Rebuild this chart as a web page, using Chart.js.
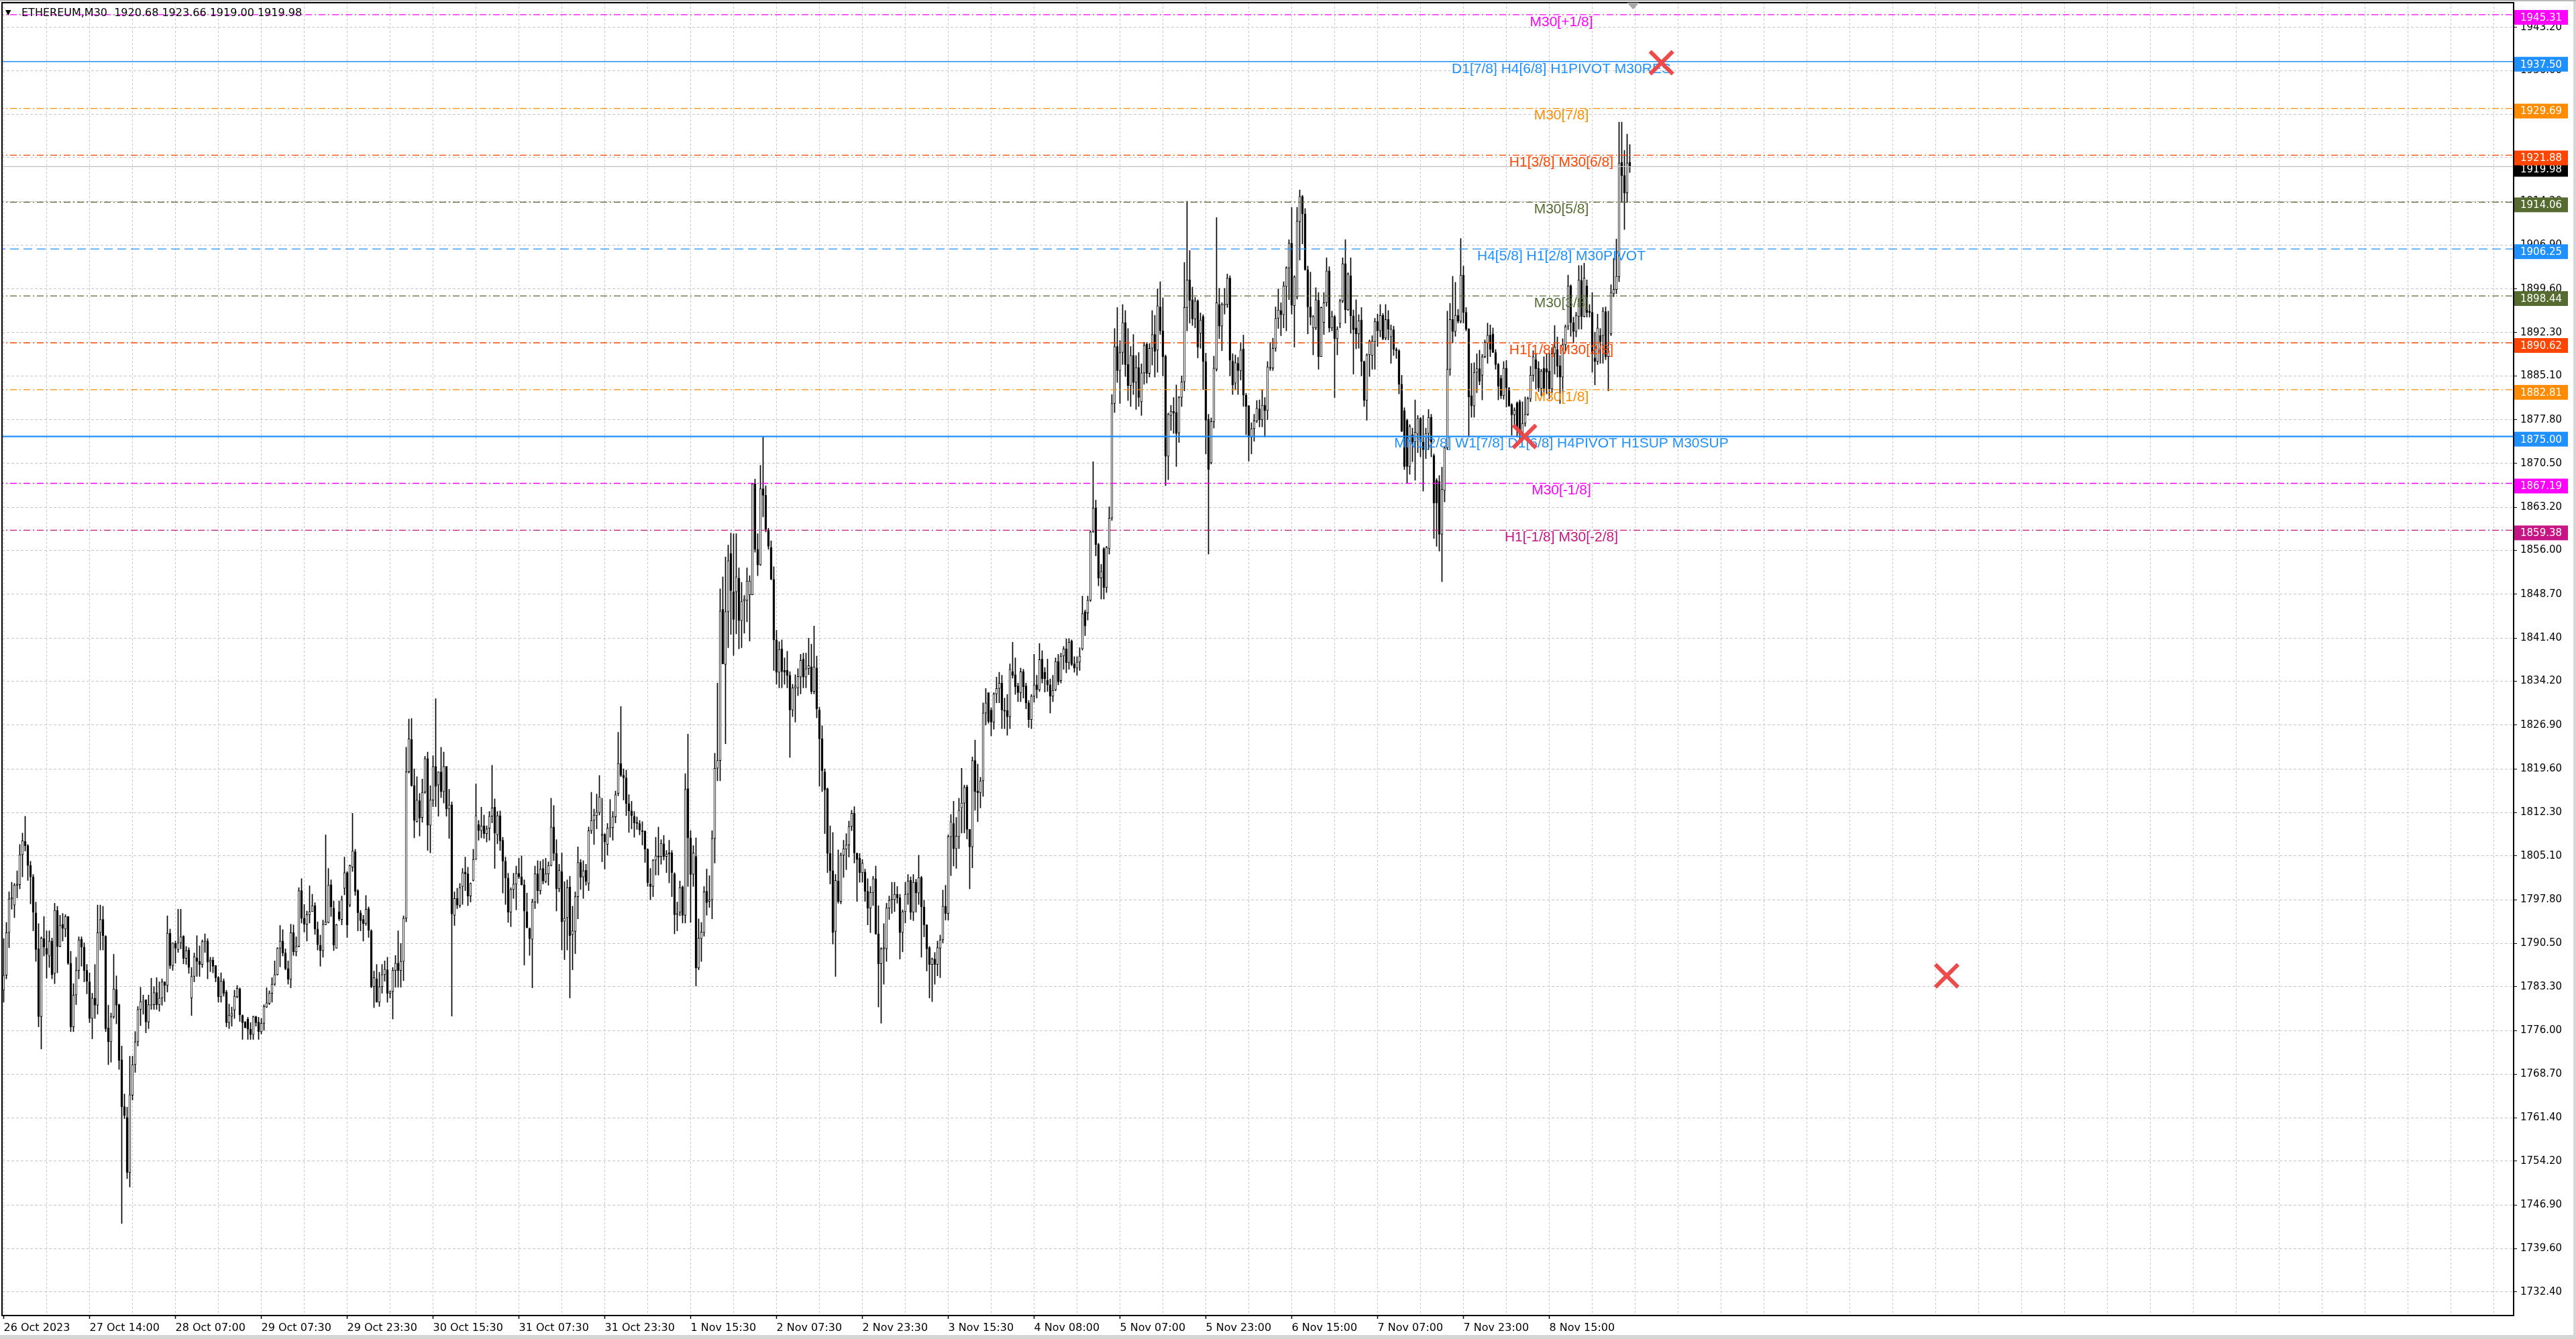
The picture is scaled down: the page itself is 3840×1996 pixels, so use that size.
<!DOCTYPE html>
<html>
<head>
<meta charset="utf-8">
<title>ETHEREUM,M30</title>
<script src="https://cdn.jsdelivr.net/npm/chart.js@4.4.1/dist/chart.umd.min.js"></script>
<style>
    html, body { margin: 0; padding: 0; background: #fff; }
    #wrap { width: 3840px; height: 1996px; }
</style>
</head>
<body>
<div id="wrap"><canvas id="priceChart" width="3840" height="1996"></canvas></div>
<script>
const symbolTitle = 'ETHEREUM,M30';

// M30 bars, oldest first
const opens = [
    1782.7,1785.2,1792.3,1797.9,1796.9,1800.2,1800.3,1805.3,1807.5,1806.8,
    1803.5,1801.6,1795.6,1789.6,1778.3,1791.3,1789.7,1788.4,1790.9,1785.5,
    1796.0,1790.0,1793.7,1792.9,1795.0,1787.2,1776.6,1781.9,1786.0,1791.2,
    1789.9,1786.0,1784.1,1778.0,1781.4,1780.2,1792.3,1794.5,1791.7,1776.4,
    1774.1,1778.3,1782.8,1780.3,1771.1,1763.3,1761.5,1752.3,1765.2,1770.3,
    1774.1,1779.5,1780.8,1781.1,1777.4,1780.2,1780.3,1782.3,1780.3,1781.4,
    1784.1,1783.5,1792.2,1786.8,1790.5,1789.5,1790.6,1791.7,1788.0,1789.4,
    1781.4,1785.0,1788.1,1787.5,1787.0,1790.8,1790.9,1787.4,1787.7,1786.8,
    1784.8,1781.6,1784.2,1782.4,1777.3,1778.4,1779.4,1781.6,1782.9,1778.5,
    1777.4,1777.9,1776.2,1775.3,1778.3,1777.4,1775.8,1777.2,1779.9,1780.5,
    1782.2,1783.7,1785.3,1789.7,1790.9,1788.9,1786.3,1784.5,1792.3,1789.1,
    1790.0,1799.3,1794.7,1793.7,1795.3,1795.8,1796.8,1792.9,1790.2,1789.3,
    1793.6,1794.0,1800.3,1796.4,1789.7,1795.8,1794.5,1799.7,1802.3,1796.9,
    1803.2,1805.8,1799.3,1795.6,1794.5,1793.8,1796.3,1792.6,1783.3,1784.6,
    1780.7,1783.3,1785.3,1786.1,1782.2,1782.5,1786.0,1787.2,1786.0,1787.5,
    1794.7,1819.1,1824.5,1816.8,1810.8,1814.3,1811.5,1815.7,1821.3,1810.2,
    1814.4,1820.0,1816.9,1819.1,1815.8,1820.0,1812.9,1813.6,1795.2,1798.0,
    1796.8,1800.0,1802.4,1802.1,1798.4,1801.0,1804.5,1810.3,1809.3,1810.1,
    1808.8,1809.7,1811.7,1813.2,1808.6,1811.8,1807.7,1804.2,1801.4,1795.7,
    1799.5,1800.4,1802.2,1801.6,1800.3,1795.8,1793.0,1791.2,1797.4,1802.1,
    1799.3,1803.0,1800.8,1802.1,1803.5,1809.9,1805.5,1799.6,1802.5,1794.2,
    1794.8,1799.9,1792.0,1792.5,1798.3,1804.0,1801.6,1802.7,1800.5,1809.3,
    1811.0,1811.8,1812.3,1808.5,1808.7,1807.0,1809.7,1809.8,1811.6,1815.5,
    1820.5,1818.5,1818.1,1813.8,1812.6,1811.7,1810.7,1810.5,1809.3,1809.2,
    1806.2,1800.4,1800.0,1804.4,1805.1,1805.0,1807.1,1805.0,1805.6,1805.6,
    1802.1,1795.3,1795.7,1799.9,1795.2,1816.3,1808.1,1802.0,1805.0,1786.4,
    1791.3,1792.3,1799.2,1797.5,1797.8,1808.0,1819.7,1821.0,1846.2,1837.0,
    1845.8,1855.5,1849.1,1849.1,1851.4,1844.3,1847.6,1847.7,1848.6,1848.6,
    1867.1,1856.2,1853.6,1866.3,1865.2,1859.4,1856.5,1851.2,1841.1,1835.7,
    1839.6,1836.0,1836.0,1835.2,1829.4,1833.1,1833.1,1834.9,1837.9,1834.9,
    1836.3,1836.6,1832.5,1836.4,1829.4,1824.6,1819.1,1816.3,1805.5,1802.6,
    1792.5,1800.9,1797.5,1805.2,1806.2,1806.9,1810.0,1812.2,1805.5,1804.7,
    1802.3,1802.4,1799.2,1796.4,1799.0,1801.3,1792.1,1787.1,1789.6,1789.6,
    1796.4,1797.7,1797.8,1798.7,1798.1,1792.3,1795.8,1798.7,1801.0,1795.7,
    1800.7,1798.9,1801.5,1796.6,1793.6,1789.8,1787.0,1787.9,1787.0,1789.7,
    1791.1,1796.7,1795.5,1808.3,1810.5,1806.3,1808.3,1813.1,1813.9,1816.6,
    1809.5,1806.6,1821.0,1815.9,1815.6,1817.6,1828.9,1832.3,1829.4,1827.4,
    1832.1,1833.0,1833.9,1829.4,1829.3,1828.3,1835.8,1835.3,1833.4,1832.3,
    1835.8,1833.4,1830.6,1827.8,1831.7,1833.6,1832.8,1837.9,1835.7,1834.4,
    1833.6,1831.7,1832.8,1837.5,1834.3,1838.4,1839.6,1837.3,1840.9,1837.1,
    1836.4,1837.4,1839.6,1845.8,1845.6,1847.7,1859.1,1863.1,1857.0,1851.4,
    1856.3,1849.8,1856.3,1861.4,1880.5,1890.0,1886.0,1889.0,1894.0,1887.0,
    1883.5,1888.5,1884.0,1886.5,1880.8,1885.6,1890.4,1885.5,1889.7,1892.0,
    1889.4,1896.6,1892.6,1888.4,1871.7,1878.5,1879.2,1879.0,1875.6,1881.5,
    1884.1,1896.5,1901.1,1897.8,1894.6,1897.6,1892.2,1895.0,1887.5,1877.9,
    1870.6,1877.5,1886.2,1897.0,1893.4,1896.9,1897.0,1901.4,1887.6,1883.9,
    1887.2,1886.0,1889.6,1881.9,1880.1,1874.9,1876.3,1877.6,1879.6,1877.8,
    1880.2,1879.3,1886.5,1886.4,1889.7,1894.7,1896.0,1895.3,1900.0,1903.1,
    1907.2,1896.8,1898.3,1910.8,1915.0,1912.1,1902.8,1896.6,1893.1,1893.1,
    1897.7,1888.3,1894.0,1897.3,1902.6,1893.1,1895.0,1891.3,1893.8,1897.6,
    1903.8,1896.1,1901.8,1895.1,1893.1,1892.1,1894.4,1887.5,1881.0,1888.6,
    1888.5,1890.8,1894.2,1892.6,1895.2,1891.4,1894.5,1891.6,1892.8,1889.5,
    1889.3,1883.7,1879.3,1877.7,1870.0,1875.3,1874.1,1875.4,1878.0,1874.1,
    1872.8,1875.5,1878.2,1871.8,1867.7,1867.5,1858.7,1866.0,1873.1,1886.2,
    1894.5,1892.5,1895.2,1894.2,1901.9,1895.7,1892.9,1881.8,1880.1,1885.7,
    1886.3,1885.2,1888.3,1890.6,1891.9,1892.1,1889.0,1887.0,1884.7,1881.8,
    1886.4,1883.0,1880.3,1878.6,1880.6,1880.8,1875.7,1877.2,1878.7,1881.3,
    1885.2,1887.8,1886.4,1883.0,1886.4,1886.3,1885.9,1882.9,1888.8,1889.5,
    1886.8,1884.9,1890.3,1893.4,1900.1,1894.0,1892.5,1895.0,1901.0,1895.0,
    1900.1,1895.9,1895.7,1888.1,1887.5,1891.8,1891.8,1895.8,1888.3,1892.1,
    1898.8,1899.5,1901.6,1920.7,1918.5,1915.6,1920.68
];
const highs = [
    1791.3,1794.0,1799.1,1800.7,1800.5,1802.6,1807.0,1808.9,1811.7,1807.0,
    1804.2,1802.0,1797.4,1793.8,1791.6,1795.0,1792.6,1792.6,1791.4,1797.2,
    1796.7,1795.2,1795.5,1795.3,1795.0,1789.2,1783.8,1788.2,1791.6,1791.6,
    1790.6,1787.0,1785.6,1782.2,1787.0,1796.9,1796.9,1796.7,1791.8,1780.2,
    1778.9,1788.7,1785.1,1780.4,1773.4,1765.4,1763.2,1771.7,1771.7,1775.8,
    1780.0,1783.2,1781.9,1781.1,1781.9,1784.7,1783.3,1784.8,1784.1,1784.6,
    1784.1,1795.1,1792.9,1790.6,1790.9,1796.2,1796.2,1791.8,1790.0,1789.8,
    1786.5,1788.9,1791.8,1790.1,1791.1,1792.1,1791.3,1788.2,1788.2,1786.8,
    1785.0,1785.6,1784.6,1782.7,1780.4,1779.9,1782.7,1783.5,1783.1,1778.6,
    1777.5,1778.2,1777.3,1778.4,1778.4,1778.2,1778.0,1780.3,1783.1,1782.6,
    1784.8,1787.6,1789.8,1793.5,1792.8,1789.6,1787.6,1793.7,1793.6,1791.6,
    1799.8,1801.3,1797.0,1795.9,1800.1,1798.7,1797.3,1794.1,1791.9,1794.4,
    1808.6,1803.0,1801.1,1797.6,1793.7,1797.6,1798.4,1804.9,1802.5,1803.6,
    1812.2,1806.2,1799.5,1796.0,1795.2,1798.5,1796.6,1792.8,1785.9,1787.0,
    1785.7,1787.0,1787.6,1788.2,1782.6,1786.5,1788.5,1792.6,1790.5,1795.1,
    1823.2,1827.9,1828.0,1819.6,1818.3,1815.5,1817.9,1821.7,1822.4,1816.8,
    1821.8,1831.3,1819.1,1823.2,1822.4,1820.0,1816.2,1814.1,1799.1,1799.7,
    1800.5,1803.0,1804.9,1803.2,1800.6,1806.2,1817.1,1811.0,1813.2,1811.9,
    1810.1,1812.5,1820.2,1814.6,1812.5,1812.6,1808.2,1804.9,1802.2,1799.8,
    1802.2,1803.4,1804.7,1805.1,1801.1,1798.9,1793.1,1797.9,1803.4,1804.3,
    1804.2,1804.5,1804.7,1804.1,1814.7,1813.5,1807.8,1803.7,1805.6,1800.8,
    1801.1,1801.7,1796.7,1799.1,1806.6,1804.5,1804.3,1803.7,1809.9,1815.7,
    1812.9,1815.4,1818.5,1814.7,1808.8,1810.5,1814.5,1812.5,1815.9,1825.7,
    1830.0,1819.6,1819.4,1815.3,1814.2,1812.5,1811.6,1811.0,1810.8,1809.3,
    1806.3,1803.0,1804.5,1808.2,1809.9,1807.8,1808.5,1806.0,1807.7,1806.0,
    1802.3,1797.4,1800.9,1800.1,1818.8,1825.4,1809.3,1806.8,1808.1,1794.6,
    1794.0,1800.0,1802.9,1801.8,1809.3,1822.2,1833.9,1849.6,1851.6,1854.9,
    1856.9,1858.9,1858.8,1858.8,1853.1,1850.7,1848.5,1853.1,1851.8,1867.2,
    1867.9,1858.8,1870.2,1875.0,1866.8,1859.7,1857.6,1853.3,1842.7,1840.8,
    1841.1,1838.1,1839.2,1835.8,1833.7,1835.3,1836.3,1838.7,1838.9,1838.9,
    1841.4,1840.4,1843.4,1838.4,1829.9,1826.8,1819.6,1816.4,1810.1,1809.0,
    1802.0,1806.1,1805.6,1807.7,1808.8,1810.9,1812.7,1813.3,1805.6,1805.5,
    1804.5,1802.9,1801.3,1800.0,1801.7,1803.4,1796.8,1789.8,1793.8,1797.2,
    1798.4,1800.7,1800.7,1800.0,1798.7,1796.1,1800.7,1802.0,1801.6,1802.0,
    1801.2,1805.2,1801.7,1797.7,1793.6,1790.0,1788.1,1789.0,1790.9,1791.9,
    1799.4,1800.2,1808.6,1812.0,1814.2,1811.5,1814.7,1819.7,1816.9,1816.9,
    1809.5,1821.6,1824.4,1820.4,1818.2,1830.6,1833.0,1832.3,1829.8,1832.3,
    1834.9,1835.7,1835.2,1831.4,1832.0,1837.1,1840.7,1838.1,1833.9,1836.4,
    1836.2,1833.9,1831.0,1832.0,1838.7,1835.2,1840.5,1839.3,1836.5,1837.9,
    1834.6,1835.2,1838.1,1838.7,1838.9,1840.0,1841.3,1841.3,1841.1,1838.3,
    1838.3,1839.8,1848.4,1846.1,1848.4,1859.3,1870.8,1864.4,1857.2,1853.7,
    1856.5,1856.7,1863.3,1882.0,1893.0,1896.5,1891.0,1897.0,1896.0,1893.0,
    1890.0,1892.0,1888.5,1889.0,1887.1,1890.7,1890.7,1890.5,1896.0,1895.2,
    1899.6,1900.8,1898.1,1888.6,1878.9,1880.2,1881.5,1883.6,1881.7,1885.1,
    1904.0,1914.2,1906.0,1899.9,1898.2,1897.8,1895.6,1895.3,1888.9,1878.7,
    1878.1,1888.4,1911.5,1899.7,1897.3,1899.7,1902.1,1901.8,1888.8,1888.6,
    1888.2,1890.7,1891.9,1882.2,1880.2,1877.3,1878.7,1881.0,1881.1,1882.8,
    1881.5,1887.5,1890.7,1891.4,1896.6,1899.6,1897.3,1900.8,1903.3,1907.8,
    1913.2,1901.8,1913.2,1916.1,1915.2,1913.0,1903.4,1902.4,1895.2,1899.8,
    1899.0,1896.6,1899.0,1904.8,1903.3,1895.9,1895.2,1893.3,1897.9,1904.8,
    1907.8,1902.3,1904.8,1896.1,1897.8,1895.3,1896.5,1887.6,1888.8,1891.1,
    1891.8,1894.7,1895.4,1897.0,1895.5,1897.0,1896.0,1893.6,1893.4,1889.8,
    1889.5,1885.2,1879.8,1877.9,1877.0,1876.4,1881.1,1878.5,1878.2,1878.5,
    1876.4,1879.5,1878.7,1872.1,1868.0,1868.5,1869.9,1873.4,1895.9,1897.2,
    1901.7,1900.7,1896.2,1908.0,1903.4,1896.5,1893.0,1887.2,1887.3,1888.8,
    1889.4,1888.7,1891.1,1893.9,1893.6,1893.1,1889.5,1887.2,1885.2,1887.5,
    1887.7,1883.2,1880.5,1879.8,1880.8,1881.1,1880.8,1881.6,1881.6,1886.7,
    1889.3,1888.8,1887.5,1886.2,1888.3,1888.8,1888.9,1889.8,1893.5,1891.6,
    1888.5,1891.3,1893.6,1901.9,1900.3,1894.9,1895.7,1903.5,1903.5,1903.9,
    1901.1,1897.0,1899.0,1892.4,1895.4,1893.0,1896.5,1896.6,1895.9,1900.3,
    1904.7,1907.9,1927.4,1927.4,1922.7,1925.4,1923.66
];
const lows = [
    1780.7,1784.6,1789.8,1796.2,1794.8,1798.1,1799.6,1801.6,1805.9,1801.0,
    1797.1,1792.6,1787.5,1776.6,1772.9,1788.4,1784.7,1786.5,1784.6,1783.8,
    1785.6,1789.9,1790.9,1791.6,1787.0,1775.8,1775.8,1780.3,1784.6,1786.7,
    1784.1,1782.1,1777.3,1774.6,1778.0,1778.7,1789.4,1789.4,1775.8,1770.3,
    1770.7,1778.0,1777.1,1769.5,1743.8,1761.3,1751.3,1749.9,1764.4,1769.0,
    1773.4,1776.8,1778.7,1775.6,1776.3,1779.5,1779.5,1779.5,1779.2,1780.2,
    1780.8,1782.4,1786.3,1786.0,1787.2,1789.0,1789.6,1787.1,1787.0,1785.5,
    1778.5,1784.1,1785.0,1785.0,1786.5,1789.0,1784.6,1785.8,1785.6,1784.1,
    1780.7,1780.7,1781.7,1776.6,1776.3,1776.7,1778.0,1781.4,1777.5,1774.5,
    1776.4,1774.5,1774.5,1774.5,1776.7,1774.5,1775.4,1776.0,1779.8,1780.3,
    1780.7,1783.5,1785.2,1786.6,1788.4,1786.1,1783.7,1783.1,1788.5,1788.4,
    1789.9,1793.9,1792.4,1790.9,1793.9,1795.8,1792.0,1789.4,1786.7,1788.2,
    1793.6,1793.9,1795.0,1789.3,1789.7,1794.3,1793.6,1798.6,1791.5,1796.6,
    1802.5,1798.5,1792.6,1792.6,1790.9,1793.5,1791.5,1783.1,1779.8,1780.7,
    1780.0,1782.2,1784.2,1780.7,1781.4,1777.9,1783.2,1783.2,1783.2,1784.3,
    1794.1,1818.9,1816.7,1808.1,1810.7,1808.4,1810.7,1815.5,1806.0,1805.6,
    1813.3,1813.3,1811.7,1814.8,1813.9,1811.7,1808.0,1778.4,1793.5,1796.3,
    1796.5,1797.0,1799.3,1796.8,1797.4,1800.9,1804.5,1807.7,1808.1,1808.0,
    1807.4,1807.7,1810.6,1803.0,1807.1,1806.0,1798.9,1797.0,1794.0,1793.3,
    1798.0,1796.1,1801.3,1800.2,1786.9,1793.1,1788.5,1783.1,1796.3,1797.2,
    1798.7,1800.4,1800.6,1800.2,1803.4,1804.3,1795.9,1799.1,1789.4,1787.8,
    1789.4,1781.4,1786.1,1788.8,1794.6,1799.5,1798.0,1800.2,1799.3,1808.8,
    1807.0,1809.6,1811.9,1804.1,1802.9,1805.2,1808.2,1807.7,1810.6,1815.1,
    1818.3,1814.4,1811.8,1809.0,1809.6,1808.2,1809.5,1808.6,1806.9,1804.0,
    1800.0,1797.8,1798.3,1801.9,1801.9,1803.7,1804.4,1802.3,1800.6,1798.3,
    1792.1,1792.6,1795.1,1793.9,1793.9,1800.0,1794.0,1800.0,1783.4,1786.1,
    1787.5,1791.7,1795.2,1796.5,1794.6,1803.9,1817.6,1817.6,1837.1,1823.8,
    1839.8,1842.0,1838.5,1842.1,1839.6,1839.8,1842.2,1844.1,1840.9,1848.6,
    1855.7,1851.8,1853.5,1861.6,1859.1,1856.2,1851.1,1836.0,1833.7,1833.1,
    1833.1,1833.7,1833.1,1821.5,1828.3,1827.4,1831.8,1832.1,1833.1,1833.1,
    1835.3,1832.1,1832.1,1828.1,1816.7,1815.8,1808.8,1802.3,1800.4,1790.4,
    1785.0,1797.2,1797.1,1801.5,1802.8,1804.9,1809.3,1803.9,1797.5,1800.7,
    1800.7,1797.5,1793.6,1792.3,1796.8,1792.0,1779.9,1777.2,1783.7,1787.5,
    1794.5,1795.5,1795.8,1797.2,1787.9,1789.1,1793.9,1797.0,1794.5,1794.3,
    1795.7,1797.0,1788.2,1791.6,1785.9,1781.4,1780.8,1783.7,1785.1,1784.8,
    1790.6,1794.4,1794.4,1801.8,1803.4,1803.0,1806.3,1808.9,1808.9,1807.9,
    1799.6,1803.1,1812.7,1810.8,1813.1,1815.0,1826.9,1827.2,1825.1,1826.2,
    1830.6,1830.6,1826.3,1826.3,1825.2,1826.3,1834.7,1832.0,1830.8,1830.8,
    1831.4,1829.6,1826.5,1826.3,1830.7,1831.4,1832.5,1833.9,1832.4,1832.5,
    1828.9,1830.8,1832.6,1833.6,1833.9,1836.2,1835.6,1836.2,1836.8,1835.7,
    1835.2,1836.0,1839.4,1841.8,1844.4,1847.5,1859.0,1855.1,1850.1,1847.9,
    1847.9,1849.0,1855.4,1861.0,1879.0,1884.0,1880.5,1887.0,1885.0,1881.0,
    1880.0,1882.0,1879.5,1880.0,1878.5,1883.7,1883.9,1884.9,1886.9,1884.9,
    1885.7,1892.0,1885.1,1866.8,1867.8,1876.0,1875.5,1870.0,1874.0,1880.0,
    1882.6,1892.6,1893.9,1893.5,1893.1,1888.1,1889.7,1882.8,1872.1,1855.4,
    1870.4,1876.4,1885.9,1891.3,1889.3,1895.4,1896.5,1885.1,1882.0,1882.8,
    1882.0,1884.4,1880.0,1875.3,1870.9,1872.1,1874.2,1877.3,1876.6,1876.6,
    1874.9,1877.8,1886.0,1886.0,1889.2,1893.0,1891.8,1893.1,1892.6,1897.8,
    1895.4,1889.9,1897.9,1904.4,1907.1,1902.7,1892.1,1893.6,1888.6,1892.8,
    1886.2,1888.3,1892.0,1896.7,1892.4,1892.6,1881.5,1888.6,1893.1,1897.3,
    1893.9,1896.0,1892.2,1885.4,1889.6,1889.7,1885.1,1880.0,1877.7,1885.0,
    1886.2,1886.2,1890.0,1891.6,1891.1,1891.1,1891.1,1887.2,1888.5,1888.0,
    1882.1,1875.8,1869.5,1867.2,1868.7,1870.8,1867.7,1872.3,1871.6,1865.9,
    1871.3,1872.8,1871.6,1858.0,1856.7,1855.9,1850.8,1864.1,1872.8,1885.2,
    1890.6,1891.7,1893.9,1893.9,1893.9,1892.6,1874.9,1878.2,1878.2,1882.3,
    1883.6,1881.1,1888.1,1887.2,1888.3,1889.0,1886.2,1881.1,1881.3,1881.2,
    1879.9,1880.0,1875.2,1876.7,1874.9,1874.4,1875.2,1876.7,1878.5,1880.8,
    1884.2,1882.9,1882.5,1881.8,1881.8,1882.1,1881.3,1882.3,1885.4,1884.9,
    1880.5,1882.1,1889.3,1892.8,1891.7,1890.6,1891.6,1892.9,1892.9,1894.9,
    1894.9,1894.9,1885.7,1883.6,1887.0,1887.2,1887.2,1887.8,1882.6,1891.8,
    1898.3,1898.8,1900.8,1914.0,1909.5,1914.0,1919.00
];
const closes = [
    1785.2,1792.3,1797.9,1798.1,1800.2,1800.4,1805.3,1807.6,1806.8,1803.5,
    1801.6,1795.7,1789.5,1778.3,1791.4,1789.9,1788.7,1790.9,1785.3,1796.0,
    1790.0,1793.5,1793.0,1795.0,1787.2,1776.6,1781.9,1786.0,1791.1,1789.9,
    1786.0,1784.2,1778.0,1781.4,1780.2,1792.3,1794.5,1791.8,1776.3,1774.1,
    1778.3,1782.9,1780.2,1771.0,1763.3,1761.8,1752.3,1765.3,1770.3,1774.1,
    1779.5,1780.8,1780.9,1777.4,1780.3,1780.3,1782.3,1780.3,1781.4,1784.1,
    1783.5,1792.2,1786.8,1790.6,1789.7,1790.6,1791.6,1788.0,1789.3,1786.5,
    1785.0,1788.3,1787.5,1787.0,1790.8,1790.9,1787.4,1787.7,1786.7,1784.8,
    1781.6,1784.2,1782.2,1777.3,1778.5,1778.8,1781.7,1783.0,1778.6,1777.3,
    1776.5,1776.2,1775.3,1778.3,1777.3,1775.8,1777.2,1780.0,1780.6,1782.2,
    1783.7,1785.3,1789.7,1790.9,1788.9,1786.3,1784.5,1792.3,1789.1,1790.0,
    1799.3,1794.7,1793.7,1795.3,1795.8,1796.8,1792.9,1790.3,1789.3,1793.7,
    1794.1,1800.2,1796.6,1790.2,1793.6,1794.6,1797.8,1802.3,1793.6,1803.5,
    1805.9,1799.2,1795.6,1794.3,1793.8,1796.2,1792.7,1783.3,1784.8,1780.7,
    1783.3,1785.3,1786.2,1782.2,1782.5,1786.0,1787.2,1786.0,1787.5,1794.7,
    1819.1,1824.6,1816.8,1811.0,1814.4,1811.4,1815.7,1821.3,1810.2,1814.4,
    1820.0,1816.7,1819.1,1815.8,1820.0,1812.9,1813.6,1795.4,1798.0,1796.9,
    1799.8,1802.3,1802.1,1798.4,1800.5,1804.5,1811.8,1809.3,1810.1,1808.8,
    1809.6,1811.7,1813.1,1808.9,1811.8,1807.6,1804.2,1801.4,1795.7,1799.5,
    1800.4,1802.2,1801.6,1800.3,1795.9,1793.1,1791.3,1797.4,1802.1,1799.3,
    1802.9,1800.9,1802.1,1803.5,1809.9,1805.5,1799.6,1802.7,1794.1,1794.7,
    1799.8,1791.8,1792.6,1798.3,1804.0,1801.5,1802.6,1800.8,1809.3,1811.0,
    1811.9,1812.4,1814.9,1808.7,1807.4,1809.7,1809.8,1811.6,1815.3,1820.5,
    1818.5,1818.1,1813.8,1812.6,1811.8,1810.6,1810.5,1809.4,1809.1,1806.2,
    1800.6,1800.0,1804.4,1805.1,1804.9,1807.2,1805.0,1805.4,1805.4,1802.3,
    1795.3,1795.5,1799.8,1795.2,1816.2,1808.1,1802.0,1805.6,1786.4,1791.4,
    1792.4,1799.1,1797.3,1797.8,1808.0,1819.7,1821.0,1845.9,1837.1,1845.8,
    1854.3,1849.3,1844.5,1851.6,1844.3,1847.5,1847.9,1850.9,1850.9,1867.1,
    1856.2,1853.6,1866.3,1865.2,1859.5,1856.7,1851.2,1841.1,1835.7,1839.5,
    1835.8,1835.7,1835.2,1829.4,1833.1,1833.4,1835.0,1837.7,1834.9,1836.3,
    1836.8,1832.5,1836.6,1829.6,1824.6,1819.3,1816.1,1805.5,1802.6,1792.3,
    1801.0,1797.5,1805.2,1806.3,1806.9,1810.0,1812.2,1805.6,1804.5,1802.3,
    1803.9,1799.2,1796.4,1799.0,1801.3,1792.1,1787.1,1789.6,1789.8,1796.4,
    1797.7,1797.9,1798.7,1798.1,1792.3,1795.8,1798.7,1800.9,1795.7,1800.7,
    1798.9,1801.5,1796.6,1793.6,1789.6,1787.0,1787.9,1787.0,1789.8,1791.1,
    1796.7,1795.5,1808.3,1810.8,1806.3,1808.4,1812.7,1813.9,1816.5,1809.5,
    1806.6,1821.0,1815.8,1815.6,1817.6,1828.9,1830.6,1827.5,1827.4,1832.1,
    1833.0,1833.9,1829.4,1829.2,1828.3,1836.2,1835.2,1833.3,1832.3,1835.8,
    1833.3,1830.6,1827.8,1831.7,1833.6,1832.8,1837.8,1834.6,1834.6,1833.6,
    1831.7,1832.7,1837.5,1834.1,1838.4,1839.6,1837.3,1840.7,1837.0,1836.4,
    1837.4,1838.4,1845.5,1843.4,1847.7,1859.1,1863.1,1857.0,1851.4,1852.5,
    1849.8,1856.5,1861.4,1880.5,1890.0,1886.0,1889.0,1894.0,1887.0,1883.5,
    1888.5,1884.0,1886.5,1881.5,1885.6,1890.2,1885.5,1889.7,1892.0,1889.2,
    1896.8,1892.6,1888.3,1871.7,1878.7,1879.2,1878.9,1875.5,1881.5,1884.1,
    1896.5,1901.1,1897.7,1894.6,1897.6,1889.9,1894.4,1887.5,1877.7,1869.5,
    1877.5,1886.4,1897.3,1893.4,1897.0,1897.1,1901.4,1887.7,1883.6,1887.3,
    1886.0,1889.4,1881.9,1880.0,1874.9,1876.3,1877.6,1879.7,1877.8,1880.2,
    1879.3,1886.6,1886.4,1889.7,1894.7,1896.1,1895.3,1900.1,1903.1,1907.2,
    1896.9,1901.6,1910.9,1915.0,1912.1,1902.8,1896.6,1894.9,1895.0,1897.8,
    1888.3,1896.5,1897.3,1902.6,1893.1,1895.0,1891.3,1892.9,1897.6,1903.8,
    1896.1,1902.1,1895.1,1892.8,1892.1,1894.3,1887.5,1881.0,1888.6,1890.9,
    1890.9,1894.2,1892.6,1895.2,1891.3,1894.5,1892.9,1892.9,1889.5,1889.3,
    1883.7,1875.9,1870.0,1870.0,1876.7,1874.1,1875.7,1878.0,1874.1,1872.8,
    1875.5,1878.2,1874.1,1863.9,1863.9,1858.7,1866.2,1873.1,1886.2,1894.5,
    1892.5,1895.2,1894.2,1901.9,1895.7,1892.9,1881.6,1880.1,1885.7,1886.3,
    1884.2,1888.3,1890.7,1891.9,1889.5,1889.0,1887.0,1883.4,1881.8,1886.4,
    1883.1,1880.1,1878.6,1879.4,1876.4,1875.4,1877.2,1878.7,1881.3,1885.2,
    1888.3,1886.3,1883.1,1885.9,1883.0,1885.7,1882.9,1888.8,1889.9,1886.7,
    1884.9,1890.3,1893.3,1900.1,1894.0,1892.5,1895.2,1901.1,1895.0,1901.4,
    1895.7,1895.7,1888.8,1887.5,1893.1,1890.8,1895.9,1888.3,1889.3,1899.0,
    1899.5,1901.7,1920.6,1918.5,1915.6,1920.6,1919.98
];

// time axis labels, one every 32 bars
const timeLabels = [
    '26 Oct 2023', '27 Oct 14:00', '28 Oct 07:00', '29 Oct 07:30', '29 Oct 23:30',
    '30 Oct 15:30', '31 Oct 07:30', '31 Oct 23:30', '1 Nov 15:30', '2 Nov 07:30',
    '2 Nov 23:30', '3 Nov 15:30', '4 Nov 08:00', '5 Nov 07:00', '5 Nov 23:00',
    '6 Nov 15:00', '7 Nov 07:00', '7 Nov 23:00', '8 Nov 15:00'
];
const priceTicks = [
    1943.2, 1936.0, 1928.7, 1921.5, 1914.2, 1906.9, 1899.6, 1892.3, 1885.1, 1877.8,
    1870.5, 1863.2, 1856.0, 1848.7, 1841.4, 1834.2, 1826.9, 1819.6, 1812.3, 1805.1,
    1797.8, 1790.5, 1783.3, 1776.0, 1768.7, 1761.4, 1754.2, 1746.9, 1739.6, 1732.4
];

// Murrey math levels
const levelPrices = [1945.31, 1937.50, 1929.69, 1921.88, 1914.06, 1906.25, 1898.44, 1890.62, 1882.81, 1875.00, 1867.19, 1859.38];
const levelNames = [
    'M30[+1/8]',
    'D1[7/8] H4[6/8] H1PIVOT M30RES',
    'M30[7/8]',
    'H1[3/8] M30[6/8]',
    'M30[5/8]',
    'H4[5/8] H1[2/8] M30PIVOT',
    'M30[3/8]',
    'H1[1/8] M30[2/8]',
    'M30[1/8]',
    'MN1[2/8] W1[7/8] D1[6/8] H4PIVOT H1SUP M30SUP',
    'M30[-1/8]',
    'H1[-1/8] M30[-2/8]'
];

// red cross objects (bar index, price)
const markBars = [617.8, 566.8, 724.1];
const markPrices = [1937.3, 1875.0, 1785.1];

// ---- styles ----
const DASH_DOT = [10, 4, 2, 4];
const levelColors = ['#FF00FF', '#1E90FF', '#FF8C00', '#FF4500', '#556B2F', '#1E90FF', '#556B2F', '#FF4500', '#FF8C00', '#1E90FF', '#FF00FF', '#C71585'];
const levelDashes = [DASH_DOT, [], DASH_DOT, DASH_DOT, DASH_DOT, [13, 7], DASH_DOT, DASH_DOT, DASH_DOT, [], DASH_DOT, DASH_DOT];
const levelWidths = [1.3, 1.5, 1.3, 1.3, 1.3, 1.3, 1.3, 1.3, 1.3, 2.2, 1.3, 1.3];

const GRID_STEP = 16;     // bars between vertical grid lines
const LABEL_STEP = 32;    // bars between time labels
const X_MIN = -0.625;
const X_MAX = 935.375;
const LABEL_BAR = 580.5;  // where level captions are centred
const AXIS_FONT = 'DejaVu Sans';

const barCount = closes.length;
const wickData = [];
const bodyData = [];
for (let i = 0; i < barCount; i++) {
    wickData.push({ x: i, y: [lows[i], highs[i]] });
    bodyData.push({ x: i, y: [Math.min(opens[i], closes[i]), Math.max(opens[i], closes[i])] });
}

const gridBars = [];
for (let v = 0; v <= X_MAX; v += GRID_STEP) gridBars.push(v);

const datasets = [];
datasets.push({
    type: 'scatter',
    label: 'marks',
    data: markBars.map((b, k) => ({ x: b, y: markPrices[k] })),
    pointStyle: 'crossRot',
    pointRadius: 24,
    pointHoverRadius: 24,
    borderColor: 'rgba(236, 66, 66, 0.95)',
    backgroundColor: 'rgba(236, 66, 66, 0.95)',
    borderWidth: 6,
    order: 0
});
levelPrices.forEach((p, k) => {
    datasets.push({
        type: 'line',
        label: levelNames[k],
        data: [{ x: X_MIN - 2, y: p }, { x: X_MAX + 2, y: p }],
        borderColor: levelColors[k],
        borderWidth: levelWidths[k],
        borderDash: levelDashes[k],
        pointRadius: 0,
        order: 1
    });
});
datasets.push({
    type: 'line',
    label: 'bid',
    data: [{ x: X_MIN - 2, y: closes[barCount - 1] }, { x: X_MAX + 2, y: closes[barCount - 1] }],
    borderColor: '#C0C0C0',
    borderWidth: 1.2,
    pointRadius: 0,
    order: 2
});
datasets.push({
    type: 'bar',
    label: 'bodies',
    data: bodyData,
    grouped: false,
    barThickness: 3,
    minBarLength: 1,
    borderWidth: 1,
    borderSkipped: false,
    borderColor: '#000',
    backgroundColor: (ctx) => closes[ctx.dataIndex] >= opens[ctx.dataIndex] ? '#FFFFFF' : '#000000',
    order: 3
});
datasets.push({
    type: 'bar',
    label: 'wicks',
    data: wickData,
    grouped: false,
    barThickness: 1,
    borderWidth: 0,
    backgroundColor: '#000',
    order: 4
});

// the axes must not push the plot area around
function noScalePadding(scale) {
    scale.paddingLeft = 0;
    scale.paddingRight = 0;
    scale.paddingTop = 0;
    scale.paddingBottom = 0;
}

const terminalLook = {
    id: 'terminalLook',
    beforeDraw(chart) {
        const { ctx, width, height } = chart;
        ctx.save();
        ctx.fillStyle = '#FFFFFF';
        ctx.fillRect(0, 0, width, height);
        ctx.fillStyle = '#D6D6D6';
        ctx.fillRect(width - 4, 0, 4, height);
        ctx.fillRect(0, height - 6, width, 6);
        ctx.fillStyle = '#B8B8B8';
        ctx.fillRect(0, 0, width, 2);
        ctx.restore();
    },
    beforeDatasetDraw(chart, args) {
        // level captions sit under the cross objects
        if (chart.data.datasets[args.index].label !== 'marks') return;
        const { ctx, scales: { x, y } } = chart;
        ctx.save();
        ctx.font = '21px "Liberation Sans", Arial, sans-serif';
        ctx.textAlign = 'center';
        ctx.textBaseline = 'middle';
        const cx = x.getPixelForValue(LABEL_BAR);
        levelPrices.forEach((p, k) => {
            ctx.fillStyle = levelColors[k];
            ctx.fillText(levelNames[k], cx, y.getPixelForValue(p) + 11);
        });
        ctx.restore();
    },
    afterDraw(chart) {
        const { ctx, chartArea: a, scales: { x, y } } = chart;
        ctx.save();

        // frame
        ctx.strokeStyle = '#000';
        ctx.lineWidth = 2;
        ctx.strokeRect(a.left, a.top, a.right - a.left, a.bottom - a.top);

        // price tags on the right axis
        const tag = (price, color) => {
            const py = y.getPixelForValue(price) + 4;
            ctx.fillStyle = color;
            ctx.fillRect(a.right + 1, py - 11, 80, 22);
            ctx.fillStyle = '#FFFFFF';
            ctx.font = '15px "' + AXIS_FONT + '"';
            ctx.textAlign = 'left';
            ctx.textBaseline = 'middle';
            ctx.fillText(price.toFixed(2), a.right + 10, py + 1);
        };
        tag(closes[barCount - 1], '#000000');
        levelPrices.forEach((p, k) => tag(p, levelColors[k]));

        // chart shift marker
        const sx = x.getPixelForValue(barCount + 0.25);
        ctx.fillStyle = '#A8A8A8';
        ctx.beginPath();
        ctx.moveTo(sx - 9, a.top);
        ctx.lineTo(sx + 9, a.top);
        ctx.lineTo(sx, a.top + 10);
        ctx.closePath();
        ctx.fill();

        // header
        const last = barCount - 1;
        ctx.fillStyle = '#000';
        ctx.textBaseline = 'middle';
        ctx.textAlign = 'left';
        ctx.font = '11px "' + AXIS_FONT + '"';
        ctx.fillText('\u25BC', 8, 19);
        ctx.font = '16px "' + AXIS_FONT + '"';
        const ohlc = [opens[last], highs[last], lows[last], closes[last]].map(v => v.toFixed(2)).join(' ');
        ctx.fillText(symbolTitle + '  ' + ohlc, 32, 20);
        ctx.restore();
    }
};

new Chart(document.getElementById('priceChart'), {
    type: 'bar',
    data: { datasets },
    options: {
        responsive: false,
        devicePixelRatio: 1,
        animation: false,
        layout: { autoPadding: false, padding: { left: 3, top: 4, right: 0, bottom: 0 } },
        plugins: {
            legend: { display: false },
            tooltip: { enabled: false }
        },
        scales: {
            x: {
                type: 'linear',
                min: X_MIN,
                max: X_MAX,
                offset: false,
                grid: {
                    offset: false,
                    color: '#C6C6C6',
                    lineWidth: 1,
                    tickLength: 5,
                    tickWidth: 1.5,
                    tickColor: (c) => (c.tick && c.tick.value % LABEL_STEP === 0 && c.tick.value / LABEL_STEP < timeLabels.length) ? '#000' : 'rgba(0,0,0,0)'
                },
                border: { display: true, color: '#000', width: 2, dash: [3, 3] },
                ticks: {
                    autoSkip: false,
                    maxRotation: 0,
                    minRotation: 0,
                    align: 'start',
                    padding: 4,
                    color: '#000',
                    font: { family: AXIS_FONT, size: 16 },
                    callback: (value) => value % LABEL_STEP === 0 ? (timeLabels[value / LABEL_STEP] || '') : ''
                },
                afterBuildTicks: (scale) => { scale.ticks = gridBars.map(v => ({ value: v })); },
                afterFit: (scale) => { scale.height = 35; noScalePadding(scale); }
            },
            y: {
                type: 'linear',
                position: 'right',
                min: 1728.48,
                max: 1947.31,
                grid: {
                    color: '#C6C6C6',
                    lineWidth: 1,
                    tickLength: 5,
                    tickColor: '#000'
                },
                border: { display: true, color: '#000', width: 2, dash: [4, 3] },
                ticks: {
                    padding: 5,
                    color: '#000',
                    font: { family: AXIS_FONT, size: 15 },
                    callback: (value) => Number(value).toFixed(2)
                },
                afterBuildTicks: (scale) => { scale.ticks = priceTicks.map(v => ({ value: v })); },
                afterFit: (scale) => { scale.width = 93; noScalePadding(scale); }
            }
        }
    },
    plugins: [terminalLook]
});
</script>
</body>
</html>
